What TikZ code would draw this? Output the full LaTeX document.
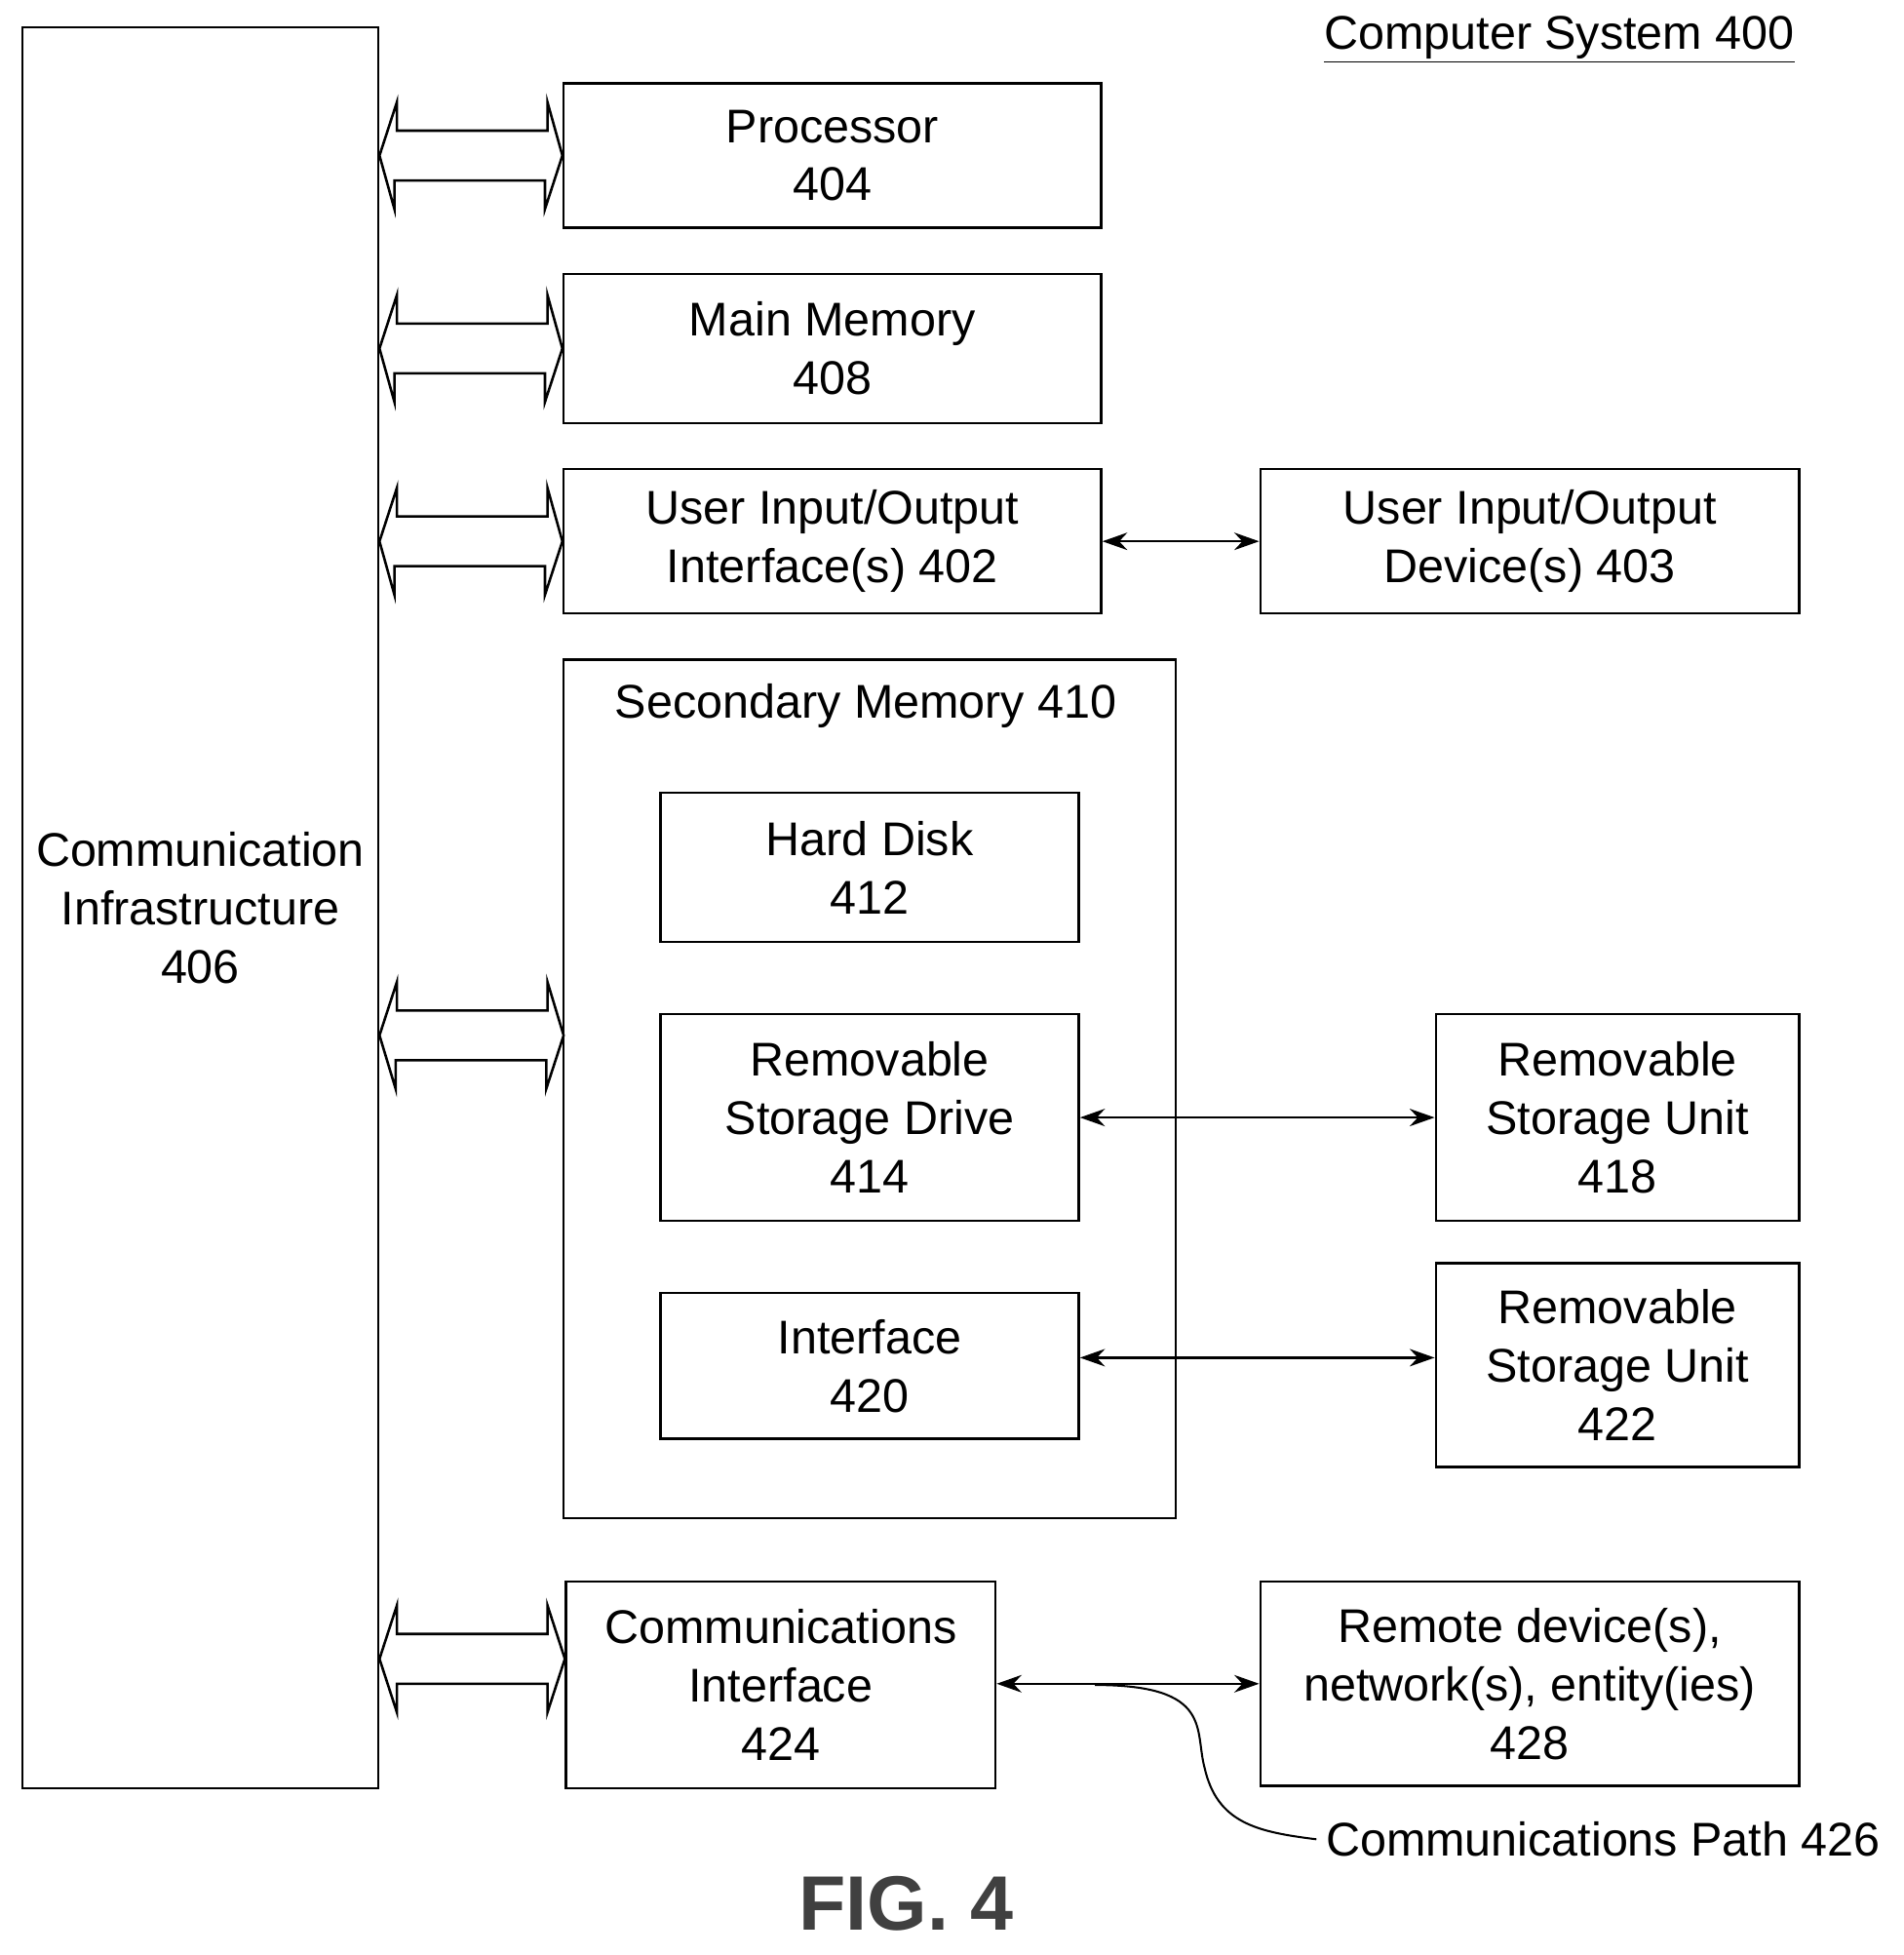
\documentclass[tikz,border=0pt]{standalone}
\usepackage{fontspec}
\setmainfont{Liberation Sans}
\usetikzlibrary{arrows.meta,calc}

\tikzset{every picture/.style={line width=1pt}}
\tikzset{
  blk/.style={draw, inner sep=0pt, align=center, font=\fontsize{19}{23.5}\selectfont},
  lnk/.style={{Stealth[length=10pt,width=7pt]}-{Stealth[length=10pt,width=7pt]}, line width=1pt},
}
% hollow double-headed bus arrow from the infrastructure to a block
\newcommand{\busto}[1]{%
  \draw ($(infra.east |- #1.west)$) -- ++(14,-43) -- ++(0,23) -- ++(121,0) -- ++(0,-23)
    -- ($(#1.west)$) -- ++(-14,43) -- ++(0,-23) -- ++(-121,0) -- ++(0,23) -- cycle;}

\begin{document}
\begin{tikzpicture}[x=0.5pt,y=0.5pt,yscale=-1,xscale=1]
\useasboundingbox (0,0) rectangle (1530,1571);

% Title
\node (title) [font=\fontsize{19}{23.5}\selectfont, anchor=east] at (1450,32) {\underline{Computer System 400}};

% Left bus
\node (infra) [blk, minimum width=143pt, minimum height=707.5pt] at (161,729.5) {Communication\\Infrastructure\\406};

% Blocks
\node (proc) [blk, minimum width=216pt, minimum height=58pt] at (669,125) {Processor\\404};
\node (mem) [blk, minimum width=216pt, minimum height=60pt] at (669,280) {Main Memory\\408};
\node (uioi) [blk, minimum width=216pt, minimum height=58pt] at (669,435) {User Input/Output\\Interface(s) 402};
\node (uiod) [blk, minimum width=216.5pt, minimum height=58pt] at (1229.5,435) {User Input/Output\\Device(s) 403};

% Secondary memory
\node (sec) [draw, minimum width=246pt, minimum height=345pt] at (699,875) {};
\node (sectitle) [font=\fontsize{19}{23.5}\selectfont] at (696,567) {Secondary Memory 410};
\node (hdd) [blk, minimum width=168pt, minimum height=60pt] at (699,697) {Hard Disk\\412};
\node (rsd) [blk, minimum width=168pt, minimum height=83pt] at (699,898) {Removable\\Storage Drive\\414};
\node (intf) [blk, minimum width=168pt, minimum height=58.5pt] at (699,1097.5) {Interface\\420};
\node (rsu1) [blk, minimum width=146pt, minimum height=83pt] at (1300,898) {Removable\\Storage Unit\\418};
\node (rsu2) [blk, minimum width=146pt, minimum height=82pt] at (1300,1097) {Removable\\Storage Unit\\422};

% Communications
\node (comi) [blk, minimum width=172.5pt, minimum height=83pt] at (627.5,1354) {Communications\\Interface\\424};
\node (rem) [blk, minimum width=216.5pt, minimum height=82pt] at (1229.5,1353) {Remote device(s),\\network(s), entity(ies)\\428};
\node (path) [font=\fontsize{19}{23.5}\selectfont, anchor=west] at (1058,1478) {Communications Path 426};

% Bus arrows
\busto{proc}
\busto{mem}
\busto{uioi}
\coordinate (secin) at (453,832);
\draw ($(infra.east |- secin)$) -- ++(14,-43) -- ++(0,23) -- ++(121,0) -- ++(0,-23)
    -- (secin) -- ++(-14,43) -- ++(0,-23) -- ++(-121,0) -- ++(0,23) -- cycle;
\coordinate (comin) at (comi.west |- 0,1333);
\draw ($(infra.east |- comin)$) -- ++(14,-43) -- ++(0,23) -- ++(121,0) -- ++(0,-23)
    -- (comin) -- ++(-14,43) -- ++(0,-23) -- ++(-121,0) -- ++(0,23) -- cycle;

% Links
\draw [lnk] (uioi.east) -- (uiod.west);
\draw [lnk] (rsd.east) -- (rsu1.west);
\draw [lnk] (intf.east |- 0,1091) -- (rsu2.west |- 0,1091);
\draw [lnk] (comi.east |- 0,1353) -- (rem.west |- 0,1353);
\draw [line width=0.8pt] (880,1354) .. controls (975,1354) and (960,1390) .. (968,1420) .. controls (978,1465) and (1010,1472) .. (path.west);

% Figure label
\node (fig) [font=\fontsize{31}{36}\bfseries\selectfont, text=black!75] at (728,1530) {FIG. 4};
\end{tikzpicture}
\end{document}
